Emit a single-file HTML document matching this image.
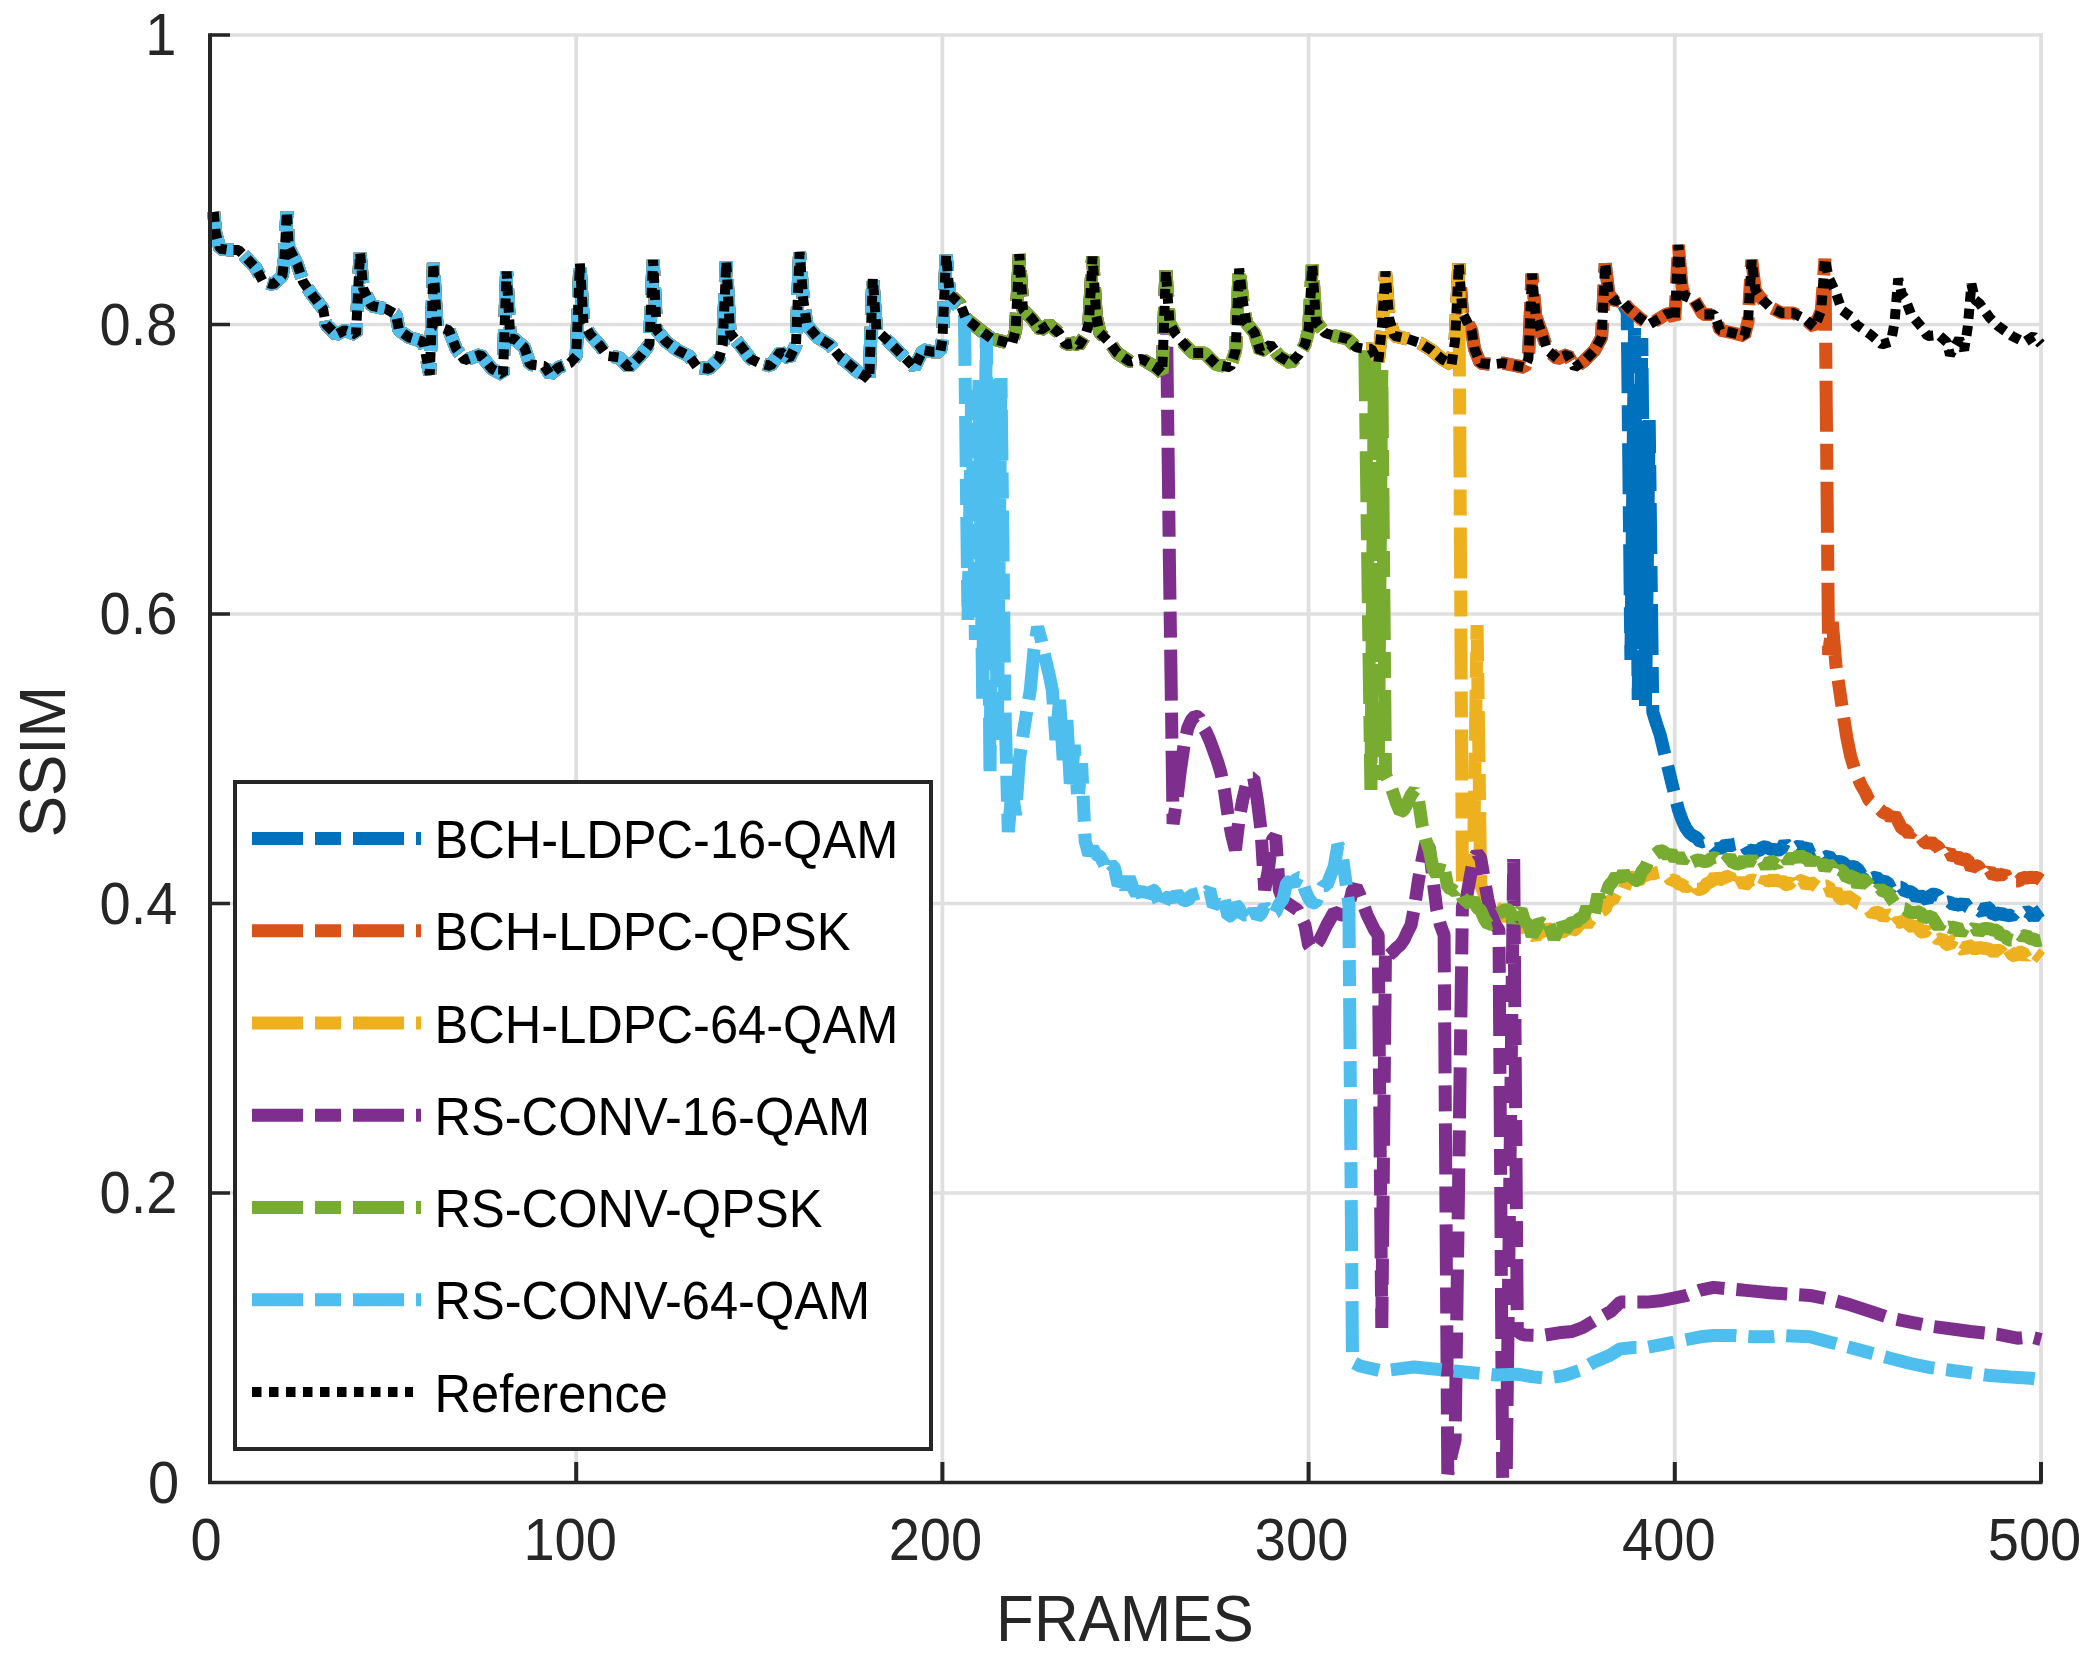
<!DOCTYPE html><html><head><meta charset="utf-8"><style>html,body{margin:0;padding:0;background:#fff}svg{display:block}</style></head><body><svg width="2096" height="1667" viewBox="0 0 2096 1667">
<rect width="2096" height="1667" fill="#fff"/>
<path d="M576.2 33.0V1482.5M942.4 33.0V1482.5M1308.6 33.0V1482.5M1674.8 33.0V1482.5M2041.0 33.0V1482.5" stroke="#dfdfdf" stroke-width="3.8" fill="none"/>
<path d="M210.0 1193.0H2043.0M210.0 903.5H2043.0M210.0 614.0H2043.0M210.0 324.5H2043.0M210.0 35.0H2043.0" stroke="#dfdfdf" stroke-width="3.6" fill="none"/>
<polyline points="213.7,212.0 215.7,232.9 220.0,248.7 230.0,250.1 238.6,250.1 245.8,257.3 255.8,268.0 263.0,281.6 273.0,284.5 282.3,275.9 284.4,258.7 286.9,211.5 288.7,247.2 297.3,264.4 303.0,281.6 313.0,296.0 323.0,308.8 326.0,324.5 336.0,334.6 344.6,330.3 356.0,334.6 357.4,304.5 360.1,253.0 363.2,288.8 371.7,305.9 386.0,308.8 396.0,314.5 399.0,330.3 409.0,337.4 423.3,341.7 429.7,374.6 431.9,318.8 433.4,263.0 437.0,326.0 449.0,330.3 456.2,348.9 464.8,360.3 480.5,354.6 492.0,369.0 503.0,374.6 506.6,271.5 510.3,338.8 514.3,338.8 524.3,347.4 530.0,364.5 544.4,366.0 550.1,374.6 558.7,367.4 570.1,363.1 576.2,356.0 579.9,263.6 583.5,323.0 590.2,334.5 600.2,345.9 607.4,356.0 618.8,357.4 628.8,367.4 640.3,356.0 649.4,344.5 653.1,260.0 656.7,330.2 666.0,341.6 677.5,350.2 689.0,356.0 697.5,367.4 709.0,368.8 719.0,358.8 722.7,345.0 726.3,261.5 730.0,333.0 741.9,347.4 750.5,358.8 759.1,363.1 770.5,366.0 780.5,351.7 789.1,358.8 796.0,345.0 799.6,252.2 803.3,300.0 806.9,325.0 817.2,337.3 830.0,345.0 840.0,357.0 850.0,365.0 858.0,372.0 866.0,377.0 869.2,380.0 872.8,278.7 876.5,330.0 890.2,343.0 901.6,354.5 914.5,367.4 923.0,350.0 931.7,351.7 940.3,351.7 942.4,340.0 946.1,255.0 949.7,294.4 960.3,304.4 966.0,318.7 980.4,330.2 991.8,338.8 1003.3,341.6 1011.9,344.5 1015.6,330.2 1019.3,254.3 1023.0,310.0 1031.9,318.7 1040.5,330.2 1049.1,324.5 1059.1,333.0 1066.2,344.5 1074.8,343.0 1078.6,345.9 1085.4,335.0 1088.9,323.0 1092.6,256.5 1096.2,315.9 1100.0,333.0 1110.0,343.0 1117.2,353.0 1130.0,361.7 1141.6,358.8 1155.9,367.4 1162.2,373.0 1165.9,270.8 1169.5,323.0 1175.9,334.5 1184.5,344.5 1193.1,353.1 1204.5,353.1 1216.0,364.5 1230.3,367.4 1235.6,350.2 1239.2,268.6 1242.9,301.6 1246.5,323.0 1254.6,333.0 1260.3,351.7 1270.4,344.5 1279.0,356.0 1290.4,363.1 1299.0,354.5 1305.0,344.5 1308.6,330.0 1312.3,265.0 1315.9,321.6 1324.8,333.0 1334.8,335.9 1347.7,338.8 1356.3,347.4 1364.8,348.8 1371.4,348.8 1378.3,361.7 1381.9,327.0 1385.5,271.5 1389.2,318.7 1394.3,335.9 1407.2,338.8 1420.1,343.0 1431.6,350.2 1441.6,358.8 1451.6,364.5 1455.1,340.0 1458.8,263.6 1462.5,313.0 1471.6,330.2 1474.5,348.8 1480.2,363.1 1491.7,364.5 1503.1,363.1 1517.4,366.0 1524.6,367.4 1528.4,358.8 1532.0,273.7 1535.7,315.9 1541.8,333.0 1547.5,350.2 1557.5,358.8 1567.5,354.5 1574.7,367.4 1583.3,361.7 1594.7,350.2 1601.6,337.3 1605.2,263.6 1608.9,294.4 1614.8,301.6 1620.5,298.7 1623.5,305.0 1627.2,312.0 1630.9,660.0 1634.5,328.0 1638.2,700.0 1641.8,338.0 1645.5,706.0 1649.2,420.0 1652.8,712.0 1656.5,724.0 1660.2,735.0 1663.8,750.0 1667.5,765.0 1671.1,780.0 1674.8,795.0 1678.5,810.0 1682.1,820.0 1685.8,828.0 1689.4,833.0 1693.1,835.9 1696.8,837.8 1700.4,842.2 1704.1,841.2 1707.8,841.5 1711.4,844.5 1715.1,848.9 1718.7,848.3 1722.4,848.1 1726.1,843.8 1729.7,846.4 1733.4,844.3 1737.1,843.6 1740.7,843.1 1744.4,844.5 1748.0,850.7 1751.7,850.4 1755.4,850.7 1759.0,851.2 1762.7,846.7 1766.3,847.1 1770.0,849.2 1773.7,849.5 1777.3,850.0 1781.0,849.7 1784.7,842.9 1788.3,847.6 1792.0,848.6 1795.6,847.8 1799.3,845.6 1803.0,848.5 1806.6,845.9 1810.3,853.7 1814.0,854.1 1817.6,852.5 1821.3,851.5 1824.9,857.4 1828.6,855.7 1832.3,860.2 1835.9,861.9 1839.6,861.3 1843.3,862.6 1846.9,866.1 1850.6,866.8 1854.2,866.5 1857.9,869.2 1861.6,874.8 1865.2,870.3 1868.9,871.9 1872.5,878.1 1876.2,876.8 1879.9,880.4 1883.5,881.4 1887.2,881.9 1890.9,888.7 1894.5,883.9 1898.2,887.2 1901.8,887.2 1905.5,892.2 1909.2,891.0 1912.8,893.3 1916.5,898.0 1920.2,895.2 1923.8,897.4 1927.5,900.4 1931.1,894.2 1934.8,894.2 1938.5,895.7 1942.1,901.6 1945.8,902.5 1949.5,901.7 1953.1,904.6 1956.8,904.0 1960.4,905.9 1964.1,902.2 1967.8,907.1 1971.4,909.1 1975.1,910.6 1978.7,909.8 1982.4,912.6 1986.1,906.0 1989.7,909.2 1993.4,915.3 1997.1,914.2 2000.7,911.8 2004.4,916.5 2008.0,914.4 2011.7,916.5 2015.4,912.5 2019.0,911.7 2022.7,913.8 2026.4,911.3 2030.0,913.3 2033.7,917.9 2037.3,912.9 2041.0,910.3" fill="none" stroke="#0072BD" stroke-width="13" stroke-dasharray="51 12 26 12" stroke-linecap="butt" stroke-linejoin="bevel"/>
<polyline points="213.7,212.0 215.7,232.9 220.0,248.7 230.0,250.1 238.6,250.1 245.8,257.3 255.8,268.0 263.0,281.6 273.0,284.5 282.3,275.9 284.4,258.7 286.9,211.5 288.7,247.2 297.3,264.4 303.0,281.6 313.0,296.0 323.0,308.8 326.0,324.5 336.0,334.6 344.6,330.3 356.0,334.6 357.4,304.5 360.1,253.0 363.2,288.8 371.7,305.9 386.0,308.8 396.0,314.5 399.0,330.3 409.0,337.4 423.3,341.7 429.7,374.6 431.9,318.8 433.4,263.0 437.0,326.0 449.0,330.3 456.2,348.9 464.8,360.3 480.5,354.6 492.0,369.0 503.0,374.6 506.6,271.5 510.3,338.8 514.3,338.8 524.3,347.4 530.0,364.5 544.4,366.0 550.1,374.6 558.7,367.4 570.1,363.1 576.2,356.0 579.9,263.6 583.5,323.0 590.2,334.5 600.2,345.9 607.4,356.0 618.8,357.4 628.8,367.4 640.3,356.0 649.4,344.5 653.1,260.0 656.7,330.2 666.0,341.6 677.5,350.2 689.0,356.0 697.5,367.4 709.0,368.8 719.0,358.8 722.7,345.0 726.3,261.5 730.0,333.0 741.9,347.4 750.5,358.8 759.1,363.1 770.5,366.0 780.5,351.7 789.1,358.8 796.0,345.0 799.6,252.2 803.3,300.0 806.9,325.0 817.2,337.3 830.0,345.0 840.0,357.0 850.0,365.0 858.0,372.0 866.0,377.0 869.2,380.0 872.8,278.7 876.5,330.0 890.2,343.0 901.6,354.5 914.5,367.4 923.0,350.0 931.7,351.7 940.3,351.7 942.4,340.0 946.1,255.0 949.7,294.4 960.3,304.4 966.0,318.7 980.4,330.2 991.8,338.8 1003.3,341.6 1011.9,344.5 1015.6,330.2 1019.3,254.3 1023.0,310.0 1031.9,318.7 1040.5,330.2 1049.1,324.5 1059.1,333.0 1066.2,344.5 1074.8,343.0 1078.6,345.9 1085.4,335.0 1088.9,323.0 1092.6,256.5 1096.2,315.9 1100.0,333.0 1110.0,343.0 1117.2,353.0 1130.0,361.7 1141.6,358.8 1155.9,367.4 1162.2,373.0 1165.9,270.8 1169.5,323.0 1175.9,334.5 1184.5,344.5 1193.1,353.1 1204.5,353.1 1216.0,364.5 1230.3,367.4 1235.6,350.2 1239.2,268.6 1242.9,301.6 1246.5,323.0 1254.6,333.0 1260.3,351.7 1270.4,344.5 1279.0,356.0 1290.4,363.1 1299.0,354.5 1305.0,344.5 1308.6,330.0 1312.3,265.0 1315.9,321.6 1324.8,333.0 1334.8,335.9 1347.7,338.8 1356.3,347.4 1364.8,348.8 1371.4,348.8 1378.3,361.7 1381.9,327.0 1385.5,271.5 1389.2,318.7 1394.3,335.9 1407.2,338.8 1420.1,343.0 1431.6,350.2 1441.6,358.8 1451.6,364.5 1455.1,340.0 1458.8,263.6 1462.5,313.0 1471.6,330.2 1474.5,348.8 1480.2,363.1 1491.7,364.5 1503.1,363.1 1517.4,366.0 1524.6,367.4 1528.4,358.8 1532.0,273.7 1535.7,315.9 1541.8,333.0 1547.5,350.2 1557.5,358.8 1567.5,354.5 1574.7,367.4 1583.3,361.7 1594.7,350.2 1601.6,337.3 1605.2,263.6 1608.9,294.4 1614.8,301.6 1620.5,298.7 1629.0,308.7 1640.5,318.7 1649.1,324.5 1659.1,318.7 1665.7,314.4 1671.0,313.0 1674.8,320.0 1678.4,245.0 1682.1,287.2 1684.3,295.8 1694.4,300.1 1703.0,314.4 1714.4,314.4 1720.1,330.2 1733.0,333.0 1744.5,335.9 1748.0,321.6 1751.7,260.0 1755.3,290.1 1760.2,297.3 1770.2,307.3 1781.7,313.0 1793.1,313.0 1804.6,318.7 1814.6,327.3 1821.3,310.1 1824.9,258.6 1828.6,655.0 1832.3,622.0 1835.9,665.0 1839.6,690.0 1843.3,715.0 1846.9,738.0 1850.6,756.0 1854.2,768.0 1857.9,778.0 1861.6,786.0 1865.2,792.0 1868.9,800.0 1872.5,803.3 1876.2,806.6 1879.9,809.4 1883.5,812.9 1887.2,813.7 1890.9,818.3 1894.5,814.6 1898.2,821.5 1901.8,828.7 1905.5,829.7 1909.2,834.6 1912.8,830.7 1916.5,836.0 1920.2,836.6 1923.8,841.4 1927.5,844.1 1931.1,841.7 1934.8,845.0 1938.5,847.3 1942.1,854.1 1945.8,854.6 1949.5,851.5 1953.1,858.3 1956.8,854.9 1960.4,860.7 1964.1,858.7 1967.8,859.7 1971.4,868.6 1975.1,865.2 1978.7,866.6 1982.4,873.7 1986.1,873.7 1989.7,870.0 1993.4,876.3 1997.1,873.8 2000.7,875.8 2004.4,873.0 2008.0,879.6 2011.7,878.3 2015.4,881.1 2019.0,881.1 2022.7,877.0 2026.4,878.1 2030.0,877.2 2033.7,877.6 2037.3,877.6 2041.0,880.1" fill="none" stroke="#D95319" stroke-width="13" stroke-dasharray="51 12 26 12" stroke-linecap="butt" stroke-linejoin="bevel"/>
<polyline points="213.7,212.0 215.7,232.9 220.0,248.7 230.0,250.1 238.6,250.1 245.8,257.3 255.8,268.0 263.0,281.6 273.0,284.5 282.3,275.9 284.4,258.7 286.9,211.5 288.7,247.2 297.3,264.4 303.0,281.6 313.0,296.0 323.0,308.8 326.0,324.5 336.0,334.6 344.6,330.3 356.0,334.6 357.4,304.5 360.1,253.0 363.2,288.8 371.7,305.9 386.0,308.8 396.0,314.5 399.0,330.3 409.0,337.4 423.3,341.7 429.7,374.6 431.9,318.8 433.4,263.0 437.0,326.0 449.0,330.3 456.2,348.9 464.8,360.3 480.5,354.6 492.0,369.0 503.0,374.6 506.6,271.5 510.3,338.8 514.3,338.8 524.3,347.4 530.0,364.5 544.4,366.0 550.1,374.6 558.7,367.4 570.1,363.1 576.2,356.0 579.9,263.6 583.5,323.0 590.2,334.5 600.2,345.9 607.4,356.0 618.8,357.4 628.8,367.4 640.3,356.0 649.4,344.5 653.1,260.0 656.7,330.2 666.0,341.6 677.5,350.2 689.0,356.0 697.5,367.4 709.0,368.8 719.0,358.8 722.7,345.0 726.3,261.5 730.0,333.0 741.9,347.4 750.5,358.8 759.1,363.1 770.5,366.0 780.5,351.7 789.1,358.8 796.0,345.0 799.6,252.2 803.3,300.0 806.9,325.0 817.2,337.3 830.0,345.0 840.0,357.0 850.0,365.0 858.0,372.0 866.0,377.0 869.2,380.0 872.8,278.7 876.5,330.0 890.2,343.0 901.6,354.5 914.5,367.4 923.0,350.0 931.7,351.7 940.3,351.7 942.4,340.0 946.1,255.0 949.7,294.4 960.3,304.4 966.0,318.7 980.4,330.2 991.8,338.8 1003.3,341.6 1011.9,344.5 1015.6,330.2 1019.3,254.3 1023.0,310.0 1031.9,318.7 1040.5,330.2 1049.1,324.5 1059.1,333.0 1066.2,344.5 1074.8,343.0 1078.6,345.9 1085.4,335.0 1088.9,323.0 1092.6,256.5 1096.2,315.9 1100.0,333.0 1110.0,343.0 1117.2,353.0 1130.0,361.7 1141.6,358.8 1155.9,367.4 1162.2,373.0 1165.9,270.8 1169.5,323.0 1175.9,334.5 1184.5,344.5 1193.1,353.1 1204.5,353.1 1216.0,364.5 1230.3,367.4 1235.6,350.2 1239.2,268.6 1242.9,301.6 1246.5,323.0 1254.6,333.0 1260.3,351.7 1270.4,344.5 1279.0,356.0 1290.4,363.1 1299.0,354.5 1305.0,344.5 1308.6,330.0 1312.3,265.0 1315.9,321.6 1324.8,333.0 1334.8,335.9 1347.7,338.8 1356.3,347.4 1364.8,348.8 1371.4,348.8 1378.3,361.7 1381.9,327.0 1385.5,271.5 1389.2,318.7 1394.3,335.9 1407.2,338.8 1420.1,343.0 1431.6,350.2 1441.6,358.8 1451.6,364.5 1455.1,340.0 1458.8,263.6 1462.4,885.0 1466.1,880.0 1469.7,875.0 1473.4,868.0 1477.1,625.0 1480.7,885.0 1484.4,895.0 1491.7,900.3 1495.4,907.4 1499.0,909.6 1502.7,914.8 1506.3,917.5 1510.0,914.3 1513.7,916.2 1517.3,927.1 1521.0,923.9 1524.7,926.3 1528.3,936.6 1532.0,934.0 1535.6,937.3 1539.3,932.1 1543.0,932.2 1546.6,926.5 1550.3,931.3 1554.0,933.7 1557.6,930.2 1561.3,932.3 1564.9,931.1 1568.6,924.6 1572.3,931.0 1575.9,928.9 1579.6,924.0 1583.2,919.2 1586.9,925.4 1590.6,919.2 1594.2,918.0 1597.9,915.9 1601.6,910.6 1605.2,909.0 1608.9,900.1 1612.5,900.5 1616.2,893.2 1619.9,894.5 1623.5,891.1 1627.2,880.4 1630.9,878.0 1634.5,876.5 1638.2,882.5 1641.8,875.7 1645.5,876.2 1649.2,872.5 1652.8,874.2 1656.5,872.6 1660.2,871.8 1663.8,874.2 1667.5,875.8 1671.1,880.5 1674.8,879.9 1678.5,883.9 1682.1,884.8 1685.8,887.3 1689.4,885.2 1693.1,881.2 1696.8,889.3 1700.4,889.4 1704.1,887.2 1707.8,882.4 1711.4,882.3 1715.1,875.7 1718.7,880.4 1722.4,878.7 1726.1,876.9 1729.7,875.7 1733.4,884.7 1737.1,887.1 1740.7,878.9 1744.4,886.0 1748.0,882.1 1751.7,879.5 1755.4,880.9 1759.0,885.7 1762.7,886.7 1766.3,878.0 1770.0,883.3 1773.7,877.2 1777.3,883.5 1781.0,879.2 1784.7,884.3 1788.3,884.9 1792.0,881.0 1795.6,887.0 1799.3,881.2 1803.0,880.0 1806.6,886.4 1810.3,881.8 1814.0,884.6 1817.6,887.4 1821.3,890.2 1824.9,886.4 1828.6,885.9 1832.3,894.9 1835.9,890.1 1839.6,898.2 1843.3,899.3 1846.9,895.7 1850.6,898.2 1854.2,900.5 1857.9,903.4 1861.6,904.9 1865.2,906.5 1868.9,909.1 1872.5,914.3 1876.2,912.0 1879.9,913.2 1883.5,917.6 1887.2,914.2 1890.9,916.3 1894.5,924.5 1898.2,921.3 1901.8,923.0 1905.5,919.1 1909.2,924.7 1912.8,927.8 1916.5,923.7 1920.2,931.2 1923.8,932.8 1927.5,928.7 1931.1,936.1 1934.8,936.1 1938.5,939.9 1942.1,938.3 1945.8,943.5 1949.5,945.5 1953.1,939.5 1956.8,940.6 1960.4,947.4 1964.1,951.0 1967.8,944.5 1971.4,947.2 1975.1,949.3 1978.7,947.2 1982.4,948.3 1986.1,948.4 1989.7,949.5 1993.4,952.2 1997.1,949.8 2000.7,951.0 2004.4,955.5 2008.0,948.5 2011.7,954.4 2015.4,956.5 2019.0,952.5 2022.7,951.9 2026.4,958.0 2030.0,952.6 2033.7,952.3 2037.3,955.1 2041.0,958.0" fill="none" stroke="#EDB120" stroke-width="13" stroke-dasharray="51 12 26 12" stroke-linecap="butt" stroke-linejoin="bevel"/>
<polyline points="213.7,212.0 215.7,232.9 220.0,248.7 230.0,250.1 238.6,250.1 245.8,257.3 255.8,268.0 263.0,281.6 273.0,284.5 282.3,275.9 284.4,258.7 286.9,211.5 288.7,247.2 297.3,264.4 303.0,281.6 313.0,296.0 323.0,308.8 326.0,324.5 336.0,334.6 344.6,330.3 356.0,334.6 357.4,304.5 360.1,253.0 363.2,288.8 371.7,305.9 386.0,308.8 396.0,314.5 399.0,330.3 409.0,337.4 423.3,341.7 429.7,374.6 431.9,318.8 433.4,263.0 437.0,326.0 449.0,330.3 456.2,348.9 464.8,360.3 480.5,354.6 492.0,369.0 503.0,374.6 506.6,271.5 510.3,338.8 514.3,338.8 524.3,347.4 530.0,364.5 544.4,366.0 550.1,374.6 558.7,367.4 570.1,363.1 576.2,356.0 579.9,263.6 583.5,323.0 590.2,334.5 600.2,345.9 607.4,356.0 618.8,357.4 628.8,367.4 640.3,356.0 649.4,344.5 653.1,260.0 656.7,330.2 666.0,341.6 677.5,350.2 689.0,356.0 697.5,367.4 709.0,368.8 719.0,358.8 722.7,345.0 726.3,261.5 730.0,333.0 741.9,347.4 750.5,358.8 759.1,363.1 770.5,366.0 780.5,351.7 789.1,358.8 796.0,345.0 799.6,252.2 803.3,300.0 806.9,325.0 817.2,337.3 830.0,345.0 840.0,357.0 850.0,365.0 858.0,372.0 866.0,377.0 869.2,380.0 872.8,278.7 876.5,330.0 890.2,343.0 901.6,354.5 914.5,367.4 923.0,350.0 931.7,351.7 940.3,351.7 942.4,340.0 946.1,255.0 949.7,294.4 960.3,304.4 966.0,318.7 980.4,330.2 991.8,338.8 1003.3,341.6 1011.9,344.5 1015.6,330.2 1019.3,254.3 1023.0,310.0 1031.9,318.7 1040.5,330.2 1049.1,324.5 1059.1,333.0 1066.2,344.5 1074.8,343.0 1078.6,345.9 1085.4,335.0 1088.9,323.0 1092.6,256.5 1096.2,315.9 1100.0,333.0 1110.0,343.0 1117.2,353.0 1130.0,361.7 1141.6,358.8 1155.9,367.4 1162.2,373.0 1165.9,270.8 1169.4,560.0 1173.1,824.0 1176.8,800.0 1180.4,770.0 1184.1,745.0 1187.8,728.0 1191.4,720.0 1195.1,716.0 1198.7,717.0 1202.4,726.0 1206.1,732.0 1209.7,740.0 1213.4,750.0 1217.0,760.0 1220.7,772.0 1224.4,790.0 1228.0,815.0 1231.7,835.0 1235.4,850.0 1239.0,820.0 1242.7,800.0 1246.3,785.0 1250.0,778.0 1253.7,778.0 1257.3,800.0 1261.0,830.0 1264.7,890.0 1268.3,870.0 1272.0,840.0 1275.6,836.0 1279.3,890.0 1283.0,900.0 1290.3,905.0 1297.6,910.0 1304.9,925.0 1308.6,945.0 1312.3,950.0 1315.9,945.0 1319.6,940.0 1326.9,925.0 1334.2,912.0 1341.6,915.0 1345.2,915.0 1348.9,905.0 1352.5,890.0 1356.2,887.0 1359.9,895.0 1367.2,915.0 1374.5,930.0 1378.2,935.0 1381.8,1328.0 1385.5,950.0 1389.2,955.0 1392.8,952.0 1396.5,948.0 1400.2,945.0 1403.8,940.0 1407.5,932.0 1411.1,925.0 1414.8,905.0 1418.5,880.0 1422.1,860.0 1425.8,843.0 1429.4,848.0 1433.1,880.0 1436.8,910.0 1440.4,925.0 1444.1,935.0 1447.8,1474.0 1451.4,1455.0 1455.1,1440.0 1462.4,906.0 1466.1,900.0 1469.7,880.0 1473.4,860.0 1477.1,853.0 1480.7,858.0 1484.4,880.0 1488.0,900.0 1491.7,915.0 1495.4,925.0 1499.0,930.0 1502.7,1479.0 1506.3,1470.0 1513.7,859.0 1517.3,1330.0 1521.0,1334.0 1524.7,1335.0 1542.7,1335.5 1558.8,1332.8 1572.1,1331.5 1582.8,1327.5 1596.2,1319.5 1610.9,1311.4 1620.2,1302.1 1633.6,1302.1 1646.9,1302.1 1660.3,1300.8 1673.7,1298.1 1687.0,1295.4 1700.4,1290.1 1713.7,1287.4 1727.1,1288.7 1743.1,1290.1 1756.5,1291.4 1770.0,1292.7 1790.0,1294.1 1810.0,1295.4 1830.1,1299.4 1850.2,1304.8 1870.2,1311.4 1890.2,1318.1 1910.3,1322.1 1930.3,1326.1 1950.3,1328.8 1970.4,1331.5 1997.1,1334.2 2017.1,1338.2 2030.5,1336.8 2041.0,1339.5" fill="none" stroke="#7E2F8E" stroke-width="13" stroke-dasharray="51 12 26 12" stroke-linecap="butt" stroke-linejoin="bevel"/>
<polyline points="213.7,212.0 215.7,232.9 220.0,248.7 230.0,250.1 238.6,250.1 245.8,257.3 255.8,268.0 263.0,281.6 273.0,284.5 282.3,275.9 284.4,258.7 286.9,211.5 288.7,247.2 297.3,264.4 303.0,281.6 313.0,296.0 323.0,308.8 326.0,324.5 336.0,334.6 344.6,330.3 356.0,334.6 357.4,304.5 360.1,253.0 363.2,288.8 371.7,305.9 386.0,308.8 396.0,314.5 399.0,330.3 409.0,337.4 423.3,341.7 429.7,374.6 431.9,318.8 433.4,263.0 437.0,326.0 449.0,330.3 456.2,348.9 464.8,360.3 480.5,354.6 492.0,369.0 503.0,374.6 506.6,271.5 510.3,338.8 514.3,338.8 524.3,347.4 530.0,364.5 544.4,366.0 550.1,374.6 558.7,367.4 570.1,363.1 576.2,356.0 579.9,263.6 583.5,323.0 590.2,334.5 600.2,345.9 607.4,356.0 618.8,357.4 628.8,367.4 640.3,356.0 649.4,344.5 653.1,260.0 656.7,330.2 666.0,341.6 677.5,350.2 689.0,356.0 697.5,367.4 709.0,368.8 719.0,358.8 722.7,345.0 726.3,261.5 730.0,333.0 741.9,347.4 750.5,358.8 759.1,363.1 770.5,366.0 780.5,351.7 789.1,358.8 796.0,345.0 799.6,252.2 803.3,300.0 806.9,325.0 817.2,337.3 830.0,345.0 840.0,357.0 850.0,365.0 858.0,372.0 866.0,377.0 869.2,380.0 872.8,278.7 876.5,330.0 890.2,343.0 901.6,354.5 914.5,367.4 923.0,350.0 931.7,351.7 940.3,351.7 942.4,340.0 946.1,255.0 949.7,294.4 960.3,304.4 966.0,318.7 980.4,330.2 991.8,338.8 1003.3,341.6 1011.9,344.5 1015.6,330.2 1019.3,254.3 1023.0,310.0 1031.9,318.7 1040.5,330.2 1049.1,324.5 1059.1,333.0 1066.2,344.5 1074.8,343.0 1078.6,345.9 1085.4,335.0 1088.9,323.0 1092.6,256.5 1096.2,315.9 1100.0,333.0 1110.0,343.0 1117.2,353.0 1130.0,361.7 1141.6,358.8 1155.9,367.4 1162.2,373.0 1165.9,270.8 1169.5,323.0 1175.9,334.5 1184.5,344.5 1193.1,353.1 1204.5,353.1 1216.0,364.5 1230.3,367.4 1235.6,350.2 1239.2,268.6 1242.9,301.6 1246.5,323.0 1254.6,333.0 1260.3,351.7 1270.4,344.5 1279.0,356.0 1290.4,363.1 1299.0,354.5 1305.0,344.5 1308.6,330.0 1312.3,265.0 1315.9,321.6 1324.8,333.0 1334.8,335.9 1347.7,338.8 1356.3,347.4 1364.8,348.8 1370.9,790.0 1374.5,360.0 1378.2,780.0 1381.8,370.0 1385.5,775.0 1389.2,782.0 1392.8,792.0 1396.5,803.0 1400.2,812.0 1403.8,810.0 1407.5,803.0 1411.1,795.0 1414.8,790.0 1418.5,800.0 1422.1,825.0 1425.8,840.0 1429.4,850.0 1433.1,869.1 1436.8,875.0 1440.4,862.1 1444.1,867.6 1447.8,887.4 1451.4,889.1 1455.1,891.4 1458.7,887.9 1462.4,897.5 1466.1,901.2 1469.7,904.0 1473.4,898.9 1477.1,907.7 1480.7,910.3 1484.4,919.0 1488.0,924.4 1491.7,923.5 1495.4,915.4 1499.0,913.4 1502.7,911.4 1506.3,909.0 1510.0,911.0 1513.7,922.0 1517.3,914.6 1521.0,909.7 1524.7,921.4 1528.3,924.5 1532.0,935.7 1535.6,929.5 1539.3,921.6 1543.0,924.0 1546.6,919.3 1550.3,927.8 1554.0,938.6 1557.6,930.4 1561.3,918.4 1564.9,930.1 1568.6,925.6 1572.3,921.8 1575.9,922.7 1579.6,918.3 1583.2,917.4 1586.9,907.2 1590.6,918.1 1594.2,914.1 1597.9,894.4 1601.6,902.5 1605.2,896.4 1608.9,885.9 1612.5,881.8 1616.2,875.5 1619.9,880.2 1623.5,872.1 1627.2,879.0 1630.9,869.8 1634.5,880.5 1638.2,880.4 1641.8,871.6 1645.5,867.3 1649.2,858.4 1652.8,856.1 1656.5,853.4 1660.2,850.4 1663.8,851.7 1667.5,856.2 1671.1,851.7 1674.8,859.9 1678.5,854.3 1682.1,861.5 1685.8,856.3 1689.4,863.5 1693.1,861.8 1696.8,860.1 1700.4,860.3 1704.1,861.6 1707.8,861.0 1711.4,858.2 1715.1,857.2 1718.7,860.2 1722.4,864.6 1726.1,861.6 1729.7,856.3 1733.4,863.9 1737.1,863.1 1740.7,865.1 1744.4,858.4 1748.0,864.3 1751.7,857.8 1755.4,864.1 1759.0,860.7 1762.7,860.6 1766.3,867.4 1770.0,859.9 1773.7,862.9 1777.3,865.0 1781.0,857.6 1784.7,856.1 1788.3,861.6 1792.0,855.9 1795.6,859.8 1799.3,853.9 1803.0,858.2 1806.6,857.3 1810.3,863.2 1814.0,858.3 1817.6,868.5 1821.3,860.7 1824.9,869.2 1828.6,863.5 1832.3,867.3 1835.9,874.4 1839.6,869.5 1843.3,871.5 1846.9,878.3 1850.6,876.9 1854.2,875.2 1857.9,886.4 1861.6,879.7 1865.2,880.3 1868.9,885.1 1872.5,889.5 1876.2,892.5 1879.9,887.9 1883.5,892.2 1887.2,891.3 1890.9,897.6 1894.5,902.9 1898.2,904.7 1901.8,908.4 1905.5,909.0 1909.2,912.1 1912.8,912.5 1916.5,912.2 1920.2,911.8 1923.8,918.2 1927.5,916.6 1931.1,916.1 1934.8,921.3 1938.5,927.3 1942.1,921.5 1945.8,927.8 1949.5,926.9 1953.1,928.6 1956.8,925.5 1960.4,934.2 1964.1,927.7 1967.8,931.7 1971.4,930.4 1975.1,926.9 1978.7,932.8 1982.4,929.0 1986.1,928.5 1989.7,928.7 1993.4,930.3 1997.1,930.0 2000.7,935.8 2004.4,934.9 2008.0,940.1 2011.7,940.1 2015.4,941.1 2019.0,934.0 2022.7,936.6 2026.4,935.1 2030.0,938.8 2033.7,939.1 2037.3,940.9 2041.0,940.0" fill="none" stroke="#77AC30" stroke-width="13" stroke-dasharray="51 12 26 12" stroke-linecap="butt" stroke-linejoin="bevel"/>
<polyline points="213.7,212.0 215.7,232.9 220.0,248.7 230.0,250.1 238.6,250.1 245.8,257.3 255.8,268.0 263.0,281.6 273.0,284.5 282.3,275.9 284.4,258.7 286.9,211.5 288.7,247.2 297.3,264.4 303.0,281.6 313.0,296.0 323.0,308.8 326.0,324.5 336.0,334.6 344.6,330.3 356.0,334.6 357.4,304.5 360.1,253.0 363.2,288.8 371.7,305.9 386.0,308.8 396.0,314.5 399.0,330.3 409.0,337.4 423.3,341.7 429.7,374.6 431.9,318.8 433.4,263.0 437.0,326.0 449.0,330.3 456.2,348.9 464.8,360.3 480.5,354.6 492.0,369.0 503.0,374.6 506.6,271.5 510.3,338.8 514.3,338.8 524.3,347.4 530.0,364.5 544.4,366.0 550.1,374.6 558.7,367.4 570.1,363.1 576.2,356.0 579.9,263.6 583.5,323.0 590.2,334.5 600.2,345.9 607.4,356.0 618.8,357.4 628.8,367.4 640.3,356.0 649.4,344.5 653.1,260.0 656.7,330.2 666.0,341.6 677.5,350.2 689.0,356.0 697.5,367.4 709.0,368.8 719.0,358.8 722.7,345.0 726.3,261.5 730.0,333.0 741.9,347.4 750.5,358.8 759.1,363.1 770.5,366.0 780.5,351.7 789.1,358.8 796.0,345.0 799.6,252.2 803.3,300.0 806.9,325.0 817.2,337.3 830.0,345.0 840.0,357.0 850.0,365.0 858.0,372.0 866.0,377.0 869.2,380.0 872.8,278.7 876.5,330.0 890.2,343.0 901.6,354.5 914.5,367.4 923.0,350.0 931.7,351.7 940.3,351.7 942.4,340.0 946.1,255.0 949.7,296.0 953.4,303.0 957.0,306.0 960.7,309.0 964.4,312.0 968.0,620.0 971.7,390.0 975.4,640.0 979.0,380.0 982.7,700.0 986.3,331.0 990.0,776.0 993.7,378.0 997.3,740.0 1001.0,378.0 1004.7,698.0 1008.3,832.0 1012.0,790.0 1015.6,815.0 1019.3,760.0 1023.0,735.0 1026.6,712.0 1030.3,690.0 1034.0,650.0 1037.6,627.0 1041.3,640.0 1044.9,657.0 1048.6,672.0 1052.3,690.0 1055.9,740.0 1059.6,700.0 1063.2,760.0 1066.9,720.0 1070.6,790.0 1074.2,745.0 1077.9,800.0 1081.6,763.4 1085.2,841.3 1088.9,854.7 1092.5,848.0 1096.2,854.7 1099.9,856.2 1103.5,862.8 1107.2,870.8 1110.9,863.9 1114.5,868.1 1118.2,885.0 1121.8,880.2 1125.5,888.6 1129.2,877.4 1132.8,887.6 1136.5,894.4 1140.1,887.4 1143.8,902.1 1147.5,903.2 1151.1,889.3 1154.8,891.0 1158.5,900.7 1162.1,908.2 1165.8,898.6 1169.4,896.0 1173.1,900.1 1176.8,893.4 1180.4,897.3 1184.1,900.4 1187.8,900.6 1191.4,895.1 1195.1,894.2 1198.7,893.2 1202.4,896.8 1206.1,892.9 1209.7,889.6 1213.4,906.2 1217.0,902.9 1220.7,906.3 1224.4,899.9 1228.0,916.3 1231.7,915.7 1235.4,904.2 1239.0,908.0 1242.7,915.0 1246.3,914.8 1250.0,918.9 1253.7,909.6 1257.3,916.9 1261.0,914.1 1264.7,906.3 1268.3,910.2 1272.0,914.2 1275.6,912.4 1279.3,903.8 1283.0,899.2 1286.6,883.1 1290.3,880.8 1294.0,884.7 1297.6,877.4 1301.3,878.0 1304.9,889.8 1308.6,898.1 1312.3,903.0 1315.9,902.6 1319.6,892.9 1323.2,885.8 1326.9,885.3 1330.6,875.4 1334.2,866.6 1337.9,845.2 1341.6,850.7 1345.2,877.3 1348.9,905.0 1352.5,1362.0 1360.0,1366.0 1381.6,1371.0 1414.0,1367.0 1455.0,1371.0 1496.0,1375.0 1517.4,1374.2 1533.4,1376.9 1546.8,1378.2 1564.1,1375.6 1580.2,1370.2 1593.5,1362.2 1609.5,1355.5 1620.2,1348.9 1633.6,1347.5 1646.9,1347.5 1660.3,1344.8 1673.7,1342.2 1687.0,1339.5 1700.4,1336.8 1713.7,1335.5 1733.8,1335.5 1751.1,1336.8 1770.0,1336.8 1783.4,1335.5 1810.1,1336.8 1830.1,1342.2 1850.2,1347.5 1870.2,1352.9 1890.2,1358.2 1910.3,1363.5 1930.3,1367.6 1950.3,1370.2 1970.4,1372.9 1990.4,1375.6 2010.4,1376.9 2030.5,1378.2 2041.0,1379.6" fill="none" stroke="#4DBEEE" stroke-width="13" stroke-dasharray="51 12 26 12" stroke-linecap="butt" stroke-linejoin="bevel"/>
<polyline points="213.7,212.0 215.7,232.9 220.0,248.7 230.0,250.1 238.6,250.1 245.8,257.3 255.8,268.0 263.0,281.6 273.0,284.5 282.3,275.9 284.4,258.7 286.9,211.5 288.7,247.2 297.3,264.4 303.0,281.6 313.0,296.0 323.0,308.8 326.0,324.5 336.0,334.6 344.6,330.3 356.0,334.6 357.4,304.5 360.1,253.0 363.2,288.8 371.7,305.9 386.0,308.8 396.0,314.5 399.0,330.3 409.0,337.4 423.3,341.7 429.7,374.6 431.9,318.8 433.4,263.0 437.0,326.0 449.0,330.3 456.2,348.9 464.8,360.3 480.5,354.6 492.0,369.0 503.0,374.6 506.6,271.5 510.3,338.8 514.3,338.8 524.3,347.4 530.0,364.5 544.4,366.0 550.1,374.6 558.7,367.4 570.1,363.1 576.2,356.0 579.9,263.6 583.5,323.0 590.2,334.5 600.2,345.9 607.4,356.0 618.8,357.4 628.8,367.4 640.3,356.0 649.4,344.5 653.1,260.0 656.7,330.2 666.0,341.6 677.5,350.2 689.0,356.0 697.5,367.4 709.0,368.8 719.0,358.8 722.7,345.0 726.3,261.5 730.0,333.0 741.9,347.4 750.5,358.8 759.1,363.1 770.5,366.0 780.5,351.7 789.1,358.8 796.0,345.0 799.6,252.2 803.3,300.0 806.9,325.0 817.2,337.3 830.0,345.0 840.0,357.0 850.0,365.0 858.0,372.0 866.0,377.0 869.2,380.0 872.8,278.7 876.5,330.0 890.2,343.0 901.6,354.5 914.5,367.4 923.0,350.0 931.7,351.7 940.3,351.7 942.4,340.0 946.1,255.0 949.7,294.4 960.3,304.4 966.0,318.7 980.4,330.2 991.8,338.8 1003.3,341.6 1011.9,344.5 1015.6,330.2 1019.3,254.3 1023.0,310.0 1031.9,318.7 1040.5,330.2 1049.1,324.5 1059.1,333.0 1066.2,344.5 1074.8,343.0 1078.6,345.9 1085.4,335.0 1088.9,323.0 1092.6,256.5 1096.2,315.9 1100.0,333.0 1110.0,343.0 1117.2,353.0 1130.0,361.7 1141.6,358.8 1155.9,367.4 1162.2,373.0 1165.9,270.8 1169.5,323.0 1175.9,334.5 1184.5,344.5 1193.1,353.1 1204.5,353.1 1216.0,364.5 1230.3,367.4 1235.6,350.2 1239.2,268.6 1242.9,301.6 1246.5,323.0 1254.6,333.0 1260.3,351.7 1270.4,344.5 1279.0,356.0 1290.4,363.1 1299.0,354.5 1305.0,344.5 1308.6,330.0 1312.3,265.0 1315.9,321.6 1324.8,333.0 1334.8,335.9 1347.7,338.8 1356.3,347.4 1364.8,348.8 1371.4,348.8 1378.3,361.7 1381.9,327.0 1385.5,271.5 1389.2,318.7 1394.3,335.9 1407.2,338.8 1420.1,343.0 1431.6,350.2 1441.6,358.8 1451.6,364.5 1455.1,340.0 1458.8,263.6 1462.5,313.0 1471.6,330.2 1474.5,348.8 1480.2,363.1 1491.7,364.5 1503.1,363.1 1517.4,366.0 1524.6,367.4 1528.4,358.8 1532.0,273.7 1535.7,315.9 1541.8,333.0 1547.5,350.2 1557.5,358.8 1567.5,354.5 1574.7,367.4 1583.3,361.7 1594.7,350.2 1601.6,337.3 1605.2,263.6 1608.9,294.4 1614.8,301.6 1620.5,298.7 1629.0,308.7 1640.5,318.7 1649.1,324.5 1659.1,318.7 1665.7,314.4 1671.0,313.0 1674.8,320.0 1678.4,245.0 1682.1,287.2 1684.3,295.8 1694.4,300.1 1703.0,314.4 1714.4,314.4 1720.1,330.2 1733.0,333.0 1744.5,335.9 1748.0,321.6 1751.7,260.0 1755.3,290.1 1760.2,297.3 1770.2,307.3 1781.7,313.0 1793.1,313.0 1804.6,318.7 1814.6,327.3 1821.3,310.1 1824.9,258.6 1828.5,277.2 1836.0,293.0 1841.8,310.1 1851.8,317.3 1856.1,324.5 1870.4,334.5 1881.9,344.5 1891.0,341.6 1894.5,323.0 1898.2,278.7 1901.8,294.0 1905.1,298.3 1911.2,314.6 1921.4,326.9 1927.5,336.1 1938.8,335.0 1946.9,342.2 1950.0,355.0 1959.1,339.1 1964.1,350.3 1967.8,326.9 1971.4,284.0 1975.1,300.0 1979.5,303.4 1989.7,317.7 1997.9,325.9 2012.2,336.1 2024.4,342.2 2033.6,336.1 2041.0,344.2" fill="none" stroke="#000" stroke-width="10" stroke-dasharray="10 7" stroke-linecap="butt" stroke-linejoin="bevel"/>
<path d="M210.0 33.2V1484.0M210.0 1482.5V1462.0M576.2 1482.5V1462.0M942.4 1482.5V1462.0M1308.6 1482.5V1462.0M1674.8 1482.5V1462.0M2041.0 1482.5V1462.0" stroke="#262626" stroke-width="4" fill="none"/>
<path d="M208.0 1482.5H2042.5M210.0 1482.5H230.0M210.0 1193.0H230.0M210.0 903.5H230.0M210.0 614.0H230.0M210.0 324.5H230.0M210.0 35.0H230.0" stroke="#262626" stroke-width="3.4" fill="none"/>
<text transform="translate(206.0 1560.4) scale(0.95 1)" text-anchor="middle" font-family="Liberation Sans, Arial, Helvetica, sans-serif" font-size="59" fill="#262626">0</text>
<text transform="translate(570.2 1560.4) scale(0.95 1)" text-anchor="middle" font-family="Liberation Sans, Arial, Helvetica, sans-serif" font-size="59" fill="#262626">100</text>
<text transform="translate(935.4 1560.4) scale(0.95 1)" text-anchor="middle" font-family="Liberation Sans, Arial, Helvetica, sans-serif" font-size="59" fill="#262626">200</text>
<text transform="translate(1301.6 1560.4) scale(0.95 1)" text-anchor="middle" font-family="Liberation Sans, Arial, Helvetica, sans-serif" font-size="59" fill="#262626">300</text>
<text transform="translate(1668.8 1560.4) scale(0.95 1)" text-anchor="middle" font-family="Liberation Sans, Arial, Helvetica, sans-serif" font-size="59" fill="#262626">400</text>
<text transform="translate(2034.5 1560.4) scale(0.95 1)" text-anchor="middle" font-family="Liberation Sans, Arial, Helvetica, sans-serif" font-size="59" fill="#262626">500</text>
<text transform="translate(179.2 1502.8) scale(0.95 1)" text-anchor="end" font-family="Liberation Sans, Arial, Helvetica, sans-serif" font-size="59" fill="#262626">0</text>
<text transform="translate(177.5 1213.3) scale(0.95 1)" text-anchor="end" font-family="Liberation Sans, Arial, Helvetica, sans-serif" font-size="59" fill="#262626">0.2</text>
<text transform="translate(177.5 923.8) scale(0.95 1)" text-anchor="end" font-family="Liberation Sans, Arial, Helvetica, sans-serif" font-size="59" fill="#262626">0.4</text>
<text transform="translate(177.5 634.3) scale(0.95 1)" text-anchor="end" font-family="Liberation Sans, Arial, Helvetica, sans-serif" font-size="59" fill="#262626">0.6</text>
<text transform="translate(177.5 344.8) scale(0.95 1)" text-anchor="end" font-family="Liberation Sans, Arial, Helvetica, sans-serif" font-size="59" fill="#262626">0.8</text>
<text transform="translate(176.5 55.3) scale(0.95 1)" text-anchor="end" font-family="Liberation Sans, Arial, Helvetica, sans-serif" font-size="59" fill="#262626">1</text>
<text transform="translate(1125 1640.5) scale(0.952 1)" text-anchor="middle" font-family="Liberation Sans, Arial, Helvetica, sans-serif" font-size="65" fill="#262626">FRAMES</text>
<text transform="translate(65.2 761.7) rotate(-90) scale(0.952 1)" text-anchor="middle" font-family="Liberation Sans, Arial, Helvetica, sans-serif" font-size="65" fill="#262626">SSIM</text>
<rect x="235" y="782" width="696" height="667" fill="#fff" stroke="#262626" stroke-width="4"/>
<path d="M252 838.5H421" stroke="#0072BD" stroke-width="13" stroke-dasharray="51 12 26 12" fill="none"/>
<text transform="translate(434.5 858.0) scale(0.944 1)" font-family="Liberation Sans, Arial, Helvetica, sans-serif" font-size="53.6" fill="#000">BCH-LDPC-16-QAM</text>
<path d="M252 930.8H421" stroke="#D95319" stroke-width="13" stroke-dasharray="51 12 26 12" fill="none"/>
<text transform="translate(434.5 950.2) scale(0.944 1)" font-family="Liberation Sans, Arial, Helvetica, sans-serif" font-size="53.6" fill="#000">BCH-LDPC-QPSK</text>
<path d="M252 1023.0H421" stroke="#EDB120" stroke-width="13" stroke-dasharray="51 12 26 12" fill="none"/>
<text transform="translate(434.5 1042.5) scale(0.944 1)" font-family="Liberation Sans, Arial, Helvetica, sans-serif" font-size="53.6" fill="#000">BCH-LDPC-64-QAM</text>
<path d="M252 1115.2H421" stroke="#7E2F8E" stroke-width="13" stroke-dasharray="51 12 26 12" fill="none"/>
<text transform="translate(434.5 1134.8) scale(0.944 1)" font-family="Liberation Sans, Arial, Helvetica, sans-serif" font-size="53.6" fill="#000">RS-CONV-16-QAM</text>
<path d="M252 1207.5H421" stroke="#77AC30" stroke-width="13" stroke-dasharray="51 12 26 12" fill="none"/>
<text transform="translate(434.5 1227.0) scale(0.944 1)" font-family="Liberation Sans, Arial, Helvetica, sans-serif" font-size="53.6" fill="#000">RS-CONV-QPSK</text>
<path d="M252 1299.8H421" stroke="#4DBEEE" stroke-width="13" stroke-dasharray="51 12 26 12" fill="none"/>
<text transform="translate(434.5 1319.2) scale(0.944 1)" font-family="Liberation Sans, Arial, Helvetica, sans-serif" font-size="53.6" fill="#000">RS-CONV-64-QAM</text>
<path d="M252 1392.0H413" stroke="#000" stroke-width="10" stroke-dasharray="9.5 7.5" fill="none"/>
<text transform="translate(434.5 1411.5) scale(0.944 1)" font-family="Liberation Sans, Arial, Helvetica, sans-serif" font-size="53.6" fill="#000">Reference</text>
</svg></body></html>
